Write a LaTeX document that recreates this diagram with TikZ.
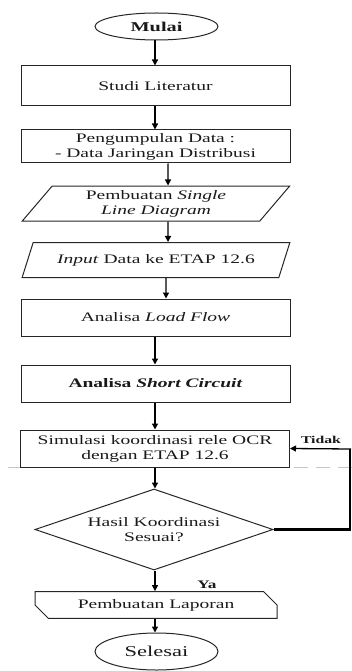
\documentclass[tikz,border=0pt]{standalone}
\usepackage{fontspec}
\setmainfont{Liberation Serif}[FakeStretch=1.5]
\usetikzlibrary{shapes.geometric,shapes.misc,arrows.meta}
\begin{document}
\begin{tikzpicture}[x=1pt,y=-1pt,
 every node/.style={font=\fontsize{13}{15}\selectfont, align=center, inner sep=0pt, text=black!90},
 box/.style={draw=black!85, line width=1pt, rectangle, minimum width=269pt},
 para/.style={draw=black!85, line width=1pt, trapezium, trapezium left angle=53, trapezium right angle=127, trapezium stretches=true, minimum width=268pt, minimum height=35pt},
 term/.style={draw=black!85, line width=1pt, ellipse, minimum width=123pt},
 arr/.style={line width=1.3pt, -{Triangle[length=6pt,width=6pt]}},
 lbl/.style={font=\fontsize{10.5}{12}\selectfont\bfseries}]
\useasboundingbox (0,0) rectangle (352,671);
\draw[gray!45, line width=1pt, dash pattern=on 14pt off 8pt] (8,467) -- (352,467);
\node[term, minimum height=27pt, font=\fontsize{13.5}{15}\selectfont\bfseries] (start) at (156.5,26.5) {Mulai};
\node[box, minimum height=40pt] (studi) at (155.5,86) {Studi Literatur};
\node[box, minimum height=33pt] (peng) at (155.5,146.5) {Pengumpulan Data :\\- Data Jaringan Distribusi};
\node[para] (p1) at (156,203.5) {Pembuatan \textit{Single}\\\textit{Line Diagram}};
\node[para] (p2) at (156,260) {\textit{Input} Data ke ETAP 12.6};
\node[box, minimum height=37pt] (load) at (155.5,317.5) {Analisa \textit{Load Flow}};
\node[box, minimum height=37pt, font=\fontsize{13}{15}\selectfont\bfseries] (short) at (155.5,383.5) {Analisa \textit{Short Circuit}};
\node[box, minimum height=37pt] (sim) at (155,448.5) {Simulasi koordinasi rele OCR\\dengan ETAP 12.6};
\node[diamond, aspect=2.94, draw=black!85, line width=1pt, minimum width=238pt, minimum height=81pt] (dec) at (154,529.5) {Hasil Koordinasi\\Sesuai?};
\node[chamfered rectangle, chamfered rectangle corners={north east,south west}, chamfered rectangle xsep=9.5pt, chamfered rectangle ysep=7.5pt, draw=black!85, line width=1pt, minimum width=242pt, minimum height=22pt] (lap) at (156,605) {Pembuatan Laporan};
\node[term, minimum height=37pt, font=\fontsize{15}{17}\selectfont] (end) at (156.5,651.5) {Selesai};
\coordinate (lc) at (350,449);
\draw[arr] ([xshift=-1.5pt]start.south) -- ([xshift=-0.5pt]studi.north);
\draw[arr] ([xshift=-0.5pt]studi.south) -- ([xshift=-0.5pt]peng.north);
\draw[arr] ([xshift=12.5pt]peng.south) -- ([xshift=12pt]p1.north);
\draw[arr] ([xshift=12pt]p1.south) -- ([xshift=12pt]p2.north);
\draw[arr] ([xshift=10pt]p2.south) -- ([xshift=10.5pt]load.north);
\draw[arr] ([xshift=-0.5pt]load.south) -- ([xshift=-0.5pt]short.north);
\draw[arr] ([xshift=-0.5pt]short.south) -- (sim.north);
\draw[arr] (sim.south) -- ([xshift=1pt]dec.north);
\draw[arr] ([xshift=1pt]dec.south) -- ([xshift=-1pt]lap.north);
\draw[arr] ([xshift=-1pt]lap.south) -- ([xshift=-1.5pt]end.north);
\draw[line width=2.3pt] (dec.east) -| (lc);
\draw[line width=1.3pt, -{Triangle[length=6pt,width=6pt]}] ([xshift=1.15pt]lc) -- (sim.east);
\node[lbl] (tidak) at (321,440) {Tidak};
\node[lbl, font=\fontsize{11.5}{13}\selectfont\bfseries] (ya) at (207,585) {Ya};
\end{tikzpicture}
\end{document}
